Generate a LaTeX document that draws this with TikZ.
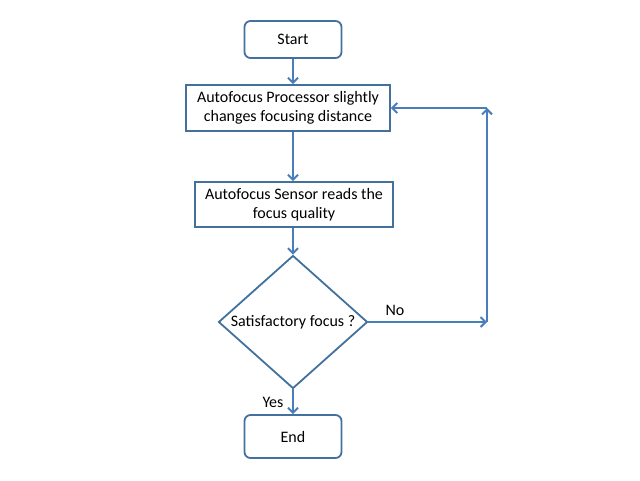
\documentclass[tikz,border=0pt]{standalone}
\usepackage{fontspec}
\setmainfont{Carlito}
\usetikzlibrary{shapes.geometric,arrows.meta}
\definecolor{lineblue}{HTML}{4A7EBB}
\definecolor{boxblue}{HTML}{41719C}
\tikzset{
  box/.style={draw=boxblue,line width=1.8pt,fill=white,inner sep=0pt,align=center,font=\fontsize{16}{19.5}\selectfont},
  term/.style={box,rounded corners=6pt},
  decision/.style={draw=boxblue,line width=1.8pt,shape=diamond,inner sep=0pt,aspect=1.12,font=\fontsize{16}{19.5}\selectfont},
  conn/.style={draw=lineblue,line width=2pt,-{Straight Barb[length=5pt,width=10pt]}},
  lbl/.style={font=\fontsize{16}{19.5}\selectfont,inner sep=0pt}
}
\begin{document}
\begin{tikzpicture}[x=1pt,y=-1pt]
\useasboundingbox (0,0) rectangle (640,480);
\node[term,minimum width=97pt,minimum height=37pt] (start) at (293,39.5) {Start};
\node[box,minimum width=204pt,minimum height=46pt] (p1) at (288,108) {Autofocus Processor slightly\\changes focusing distance};
\node[box,minimum width=198pt,minimum height=45pt] (p2) at (294,204.5) {Autofocus Sensor reads the\\focus quality};
\node[decision,minimum width=149pt,minimum height=133pt] (dec) at (293,322) {Satisfactory focus ?};
\node[term,minimum width=97pt,minimum height=43pt] (end) at (293,436.5) {End};
\coordinate (r1) at (487,322);
\coordinate (r2) at (487,108);
\draw[conn] (start.south) -- (start.south |- p1.north);
\draw[conn] (start.south |- p1.south) -- (start.south |- p2.north);
\draw[conn] (start.south |- p2.south) -- (dec.north);
\draw[conn] (dec.south) -- (end.north);
\draw[conn] (dec.east) -- (r1);
\draw[conn] (r1) -- (r2);
\draw[conn] (r2) -- (p1.east);
\node[lbl] (no) at (395,310) {No};
\node[lbl] (yes) at (273,402) {Yes};
\end{tikzpicture}
\end{document}
